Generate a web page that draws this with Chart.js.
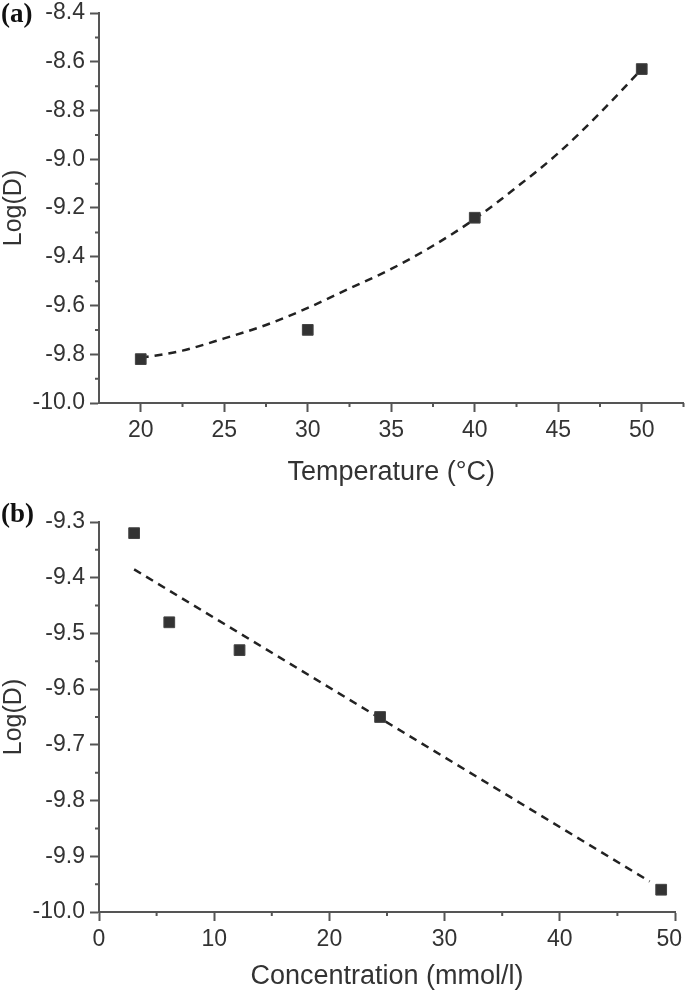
<!DOCTYPE html>
<html>
<head>
<meta charset="utf-8">
<script src="https://cdn.jsdelivr.net/npm/chart.js@4.4.1/dist/chart.umd.min.js"></script>
<style>
  body { margin: 0; background: #fff; width: 685px; height: 995px; overflow: hidden; }
  .panel { position: absolute; left: 0; }
  .tag { position: absolute; left: 1px; font: bold 27px "Liberation Serif", "Times New Roman", serif; color: #111; }
</style>
</head>
<body>
<div class="panel" style="top:0"><canvas id="chartA" width="685" height="490"></canvas></div>
<div class="panel" style="top:490px"><canvas id="chartB" width="685" height="505"></canvas></div>
<div class="tag" style="top:-2px">(a)</div>
<div class="tag" style="top:498px">(b)</div>
<script>
// (a) temperature series
const tempC = [20, 30, 40, 50];
const logDTemp = [-9.82, -9.70, -9.24, -8.63];
const fitTempX = [20, 22.5, 25, 27.5, 30, 32.5, 35, 37.5, 40, 42.5, 45, 47.5, 50];
const fitTempY = [-9.815, -9.785, -9.735, -9.68, -9.61, -9.53, -9.45, -9.355, -9.245, -9.115, -8.975, -8.81, -8.63];
const xTicksA = [20, 25, 30, 35, 40, 45, 50];
const xMinorA = [22.5, 27.5, 32.5, 37.5, 42.5, 47.5, 52.5];
const yTicksA = [-10.0, -9.8, -9.6, -9.4, -9.2, -9.0, -8.8, -8.6, -8.4];
const yMinorA = [-9.9, -9.7, -9.5, -9.3, -9.1, -8.9, -8.7, -8.5];

// (b) concentration series
const concMmol = [3.05, 6.1, 12.2, 24.4, 48.8];
const logDConc = [-9.32, -9.48, -9.53, -9.65, -9.96];
const fitConcX = [3.05, 47.8];
const fitConcY = [-9.385, -9.945];
const xTicksB = [0, 10, 20, 30, 40, 50];
const xMinorB = [5, 15, 25, 35, 45];
const yTicksB = [-10.0, -9.9, -9.8, -9.7, -9.6, -9.5, -9.4, -9.3];
const yMinorB = [-9.95, -9.85, -9.75, -9.65, -9.55, -9.45, -9.35];

Chart.defaults.font.family = "'Liberation Sans', Arial, sans-serif";
Chart.defaults.color = '#333';

const axisColor = '#555';

// small outside ticks between the labelled ones
const minorTicks = {
  id: 'minorTicks',
  afterDraw(chart, args, opts) {
    const ctx = chart.ctx;
    const xs = chart.scales.x, ys = chart.scales.y;
    ctx.save();
    ctx.strokeStyle = axisColor;
    ctx.lineWidth = 2;
    ctx.beginPath();
    opts.x.forEach(v => {
      const px = xs.getPixelForValue(v);
      ctx.moveTo(px, xs.top);
      ctx.lineTo(px, xs.top + 4);
    });
    opts.y.forEach(v => {
      const py = ys.getPixelForValue(v);
      ctx.moveTo(ys.right, py);
      ctx.lineTo(ys.right - 4, py);
    });
    ctx.stroke();
    ctx.restore();
  }
};

function toPoints(xs, ys) {
  return xs.map((x, i) => ({ x: x, y: ys[i] }));
}

function makeChart(id, cfg) {
  return new Chart(document.getElementById(id), {
    type: 'scatter',
    data: {
      datasets: [
        {
          data: toPoints(cfg.px, cfg.py),
          pointStyle: 'rect',
          pointRadius: 7.6,
          backgroundColor: '#333',
          borderColor: '#444',
          borderWidth: 1
        },
        {
          data: toPoints(cfg.fx, cfg.fy),
          showLine: true,
          pointRadius: 0,
          borderColor: '#222',
          borderWidth: 2.5,
          borderDash: [8, 6],
          cubicInterpolationMode: 'monotone',
          fill: false
        }
      ]
    },
    options: {
      responsive: false,
      animation: false,
      events: [],
      layout: { autoPadding: false, padding: { top: cfg.top, right: cfg.right, left: 0, bottom: 0 } },
      plugins: {
        legend: { display: false },
        tooltip: { enabled: false },
        minorTicks: { x: cfg.xMinor, y: cfg.yMinor }
      },
      scales: {
        x: {
          type: 'linear',
          min: cfg.xMin,
          max: cfg.xMax,
          afterBuildTicks: s => { s.ticks = cfg.xTicks.map(v => ({ value: v })); },
          afterFit: s => { s.height = cfg.xHeight; s.paddingLeft = 0; s.paddingRight = 0; },
          border: { color: axisColor, width: 2 },
          grid: { drawOnChartArea: false, tickLength: 9, tickColor: axisColor, tickWidth: 2 },
          ticks: {
            font: { size: 23 }, padding: 5, maxRotation: 0,
            // last label sits at the canvas edge, nudge it inward like the original
            callback: v => (v === cfg.xMax && cfg.right > 5) ? v + '\u2002' : String(v)
          },
          title: { display: true, text: cfg.xTitle, font: { size: 27 }, padding: { top: 0, bottom: cfg.titlePad } }
        },
        y: {
          type: 'linear',
          min: cfg.yMin,
          max: cfg.yMax,
          afterBuildTicks: s => { s.ticks = cfg.yTicks.map(v => ({ value: v })); },
          afterFit: s => { s.width = 99; s.paddingTop = 0; s.paddingBottom = 0; },
          border: { color: axisColor, width: 2 },
          grid: { drawOnChartArea: false, tickLength: 9, tickColor: axisColor, tickWidth: 2 },
          ticks: { font: { size: 23 }, padding: 5, callback: v => v.toFixed(1) },
          title: { display: true, text: 'Log(D)', font: { size: 25, lineHeight: 1.1 }, padding: 0 }
        }
      }
    },
    plugins: [minorTicks]
  });
}

makeChart('chartA', {
  px: tempC, py: logDTemp, fx: fitTempX, fy: fitTempY,
  xMin: 17.5, xMax: 52.5, yMin: -10.0, yMax: -8.4,
  xTicks: xTicksA, xMinor: xMinorA, yTicks: yTicksA, yMinor: yMinorA,
  xTitle: 'Temperature (°C)', top: 13, right: 1.5, xHeight: 87, titlePad: 1
});

makeChart('chartB', {
  px: concMmol, py: logDConc, fx: fitConcX, fy: fitConcY,
  xMin: 0, xMax: 50, yMin: -10.0, yMax: -9.3,
  xTicks: xTicksB, xMinor: xMinorB, yTicks: yTicksB, yMinor: yMinorB,
  xTitle: 'Concentration (mmol/l)', top: 32, right: 10, xHeight: 83, titlePad: 2
});
</script>
</body>
</html>
